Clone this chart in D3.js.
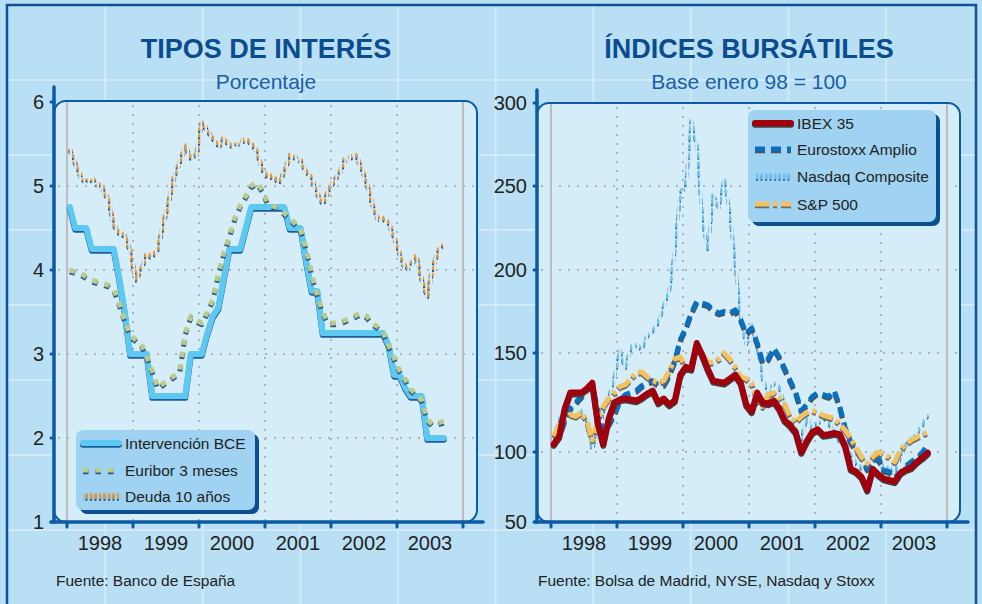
<!DOCTYPE html>
<html lang="es">
<head>
  <meta charset="UTF-8">
  <title>Tipos de interés e índices bursátiles</title>
  <style>
    body { margin: 0; background: #b9dff4; }
    svg { display: block; font-family: "Liberation Sans", Arial, sans-serif; }
  </style>
  <script src="https://d3js.org/d3.v7.min.js"></script>
</head>
<body>
  <div id="chart"></div>
  <script>
    // Datos mensuales, enero 1998 - septiembre 2003
    var years = ["1998", "1999", "2000", "2001", "2002", "2003"];
    var tiposTicks = [1, 2, 3, 4, 5, 6];
    var bolsaTicks = [50, 100, 150, 200, 250, 300];

    var bce = [4.75, 4.5, 4.5, 4.5, 4.25, 4.25, 4.25, 4.25, 4.25, 3.9, 3.5, 3.0,
      3.0, 3.0, 3.0, 2.5, 2.5, 2.5, 2.5, 2.5, 2.5, 2.5, 3.0, 3.0,
      3.0, 3.25, 3.45, 3.55, 3.9, 4.25, 4.25, 4.25, 4.5, 4.75, 4.75, 4.75,
      4.75, 4.75, 4.75, 4.75, 4.5, 4.5, 4.5, 4.1, 3.75, 3.75, 3.25, 3.25,
      3.25, 3.25, 3.25, 3.25, 3.25, 3.25, 3.25, 3.25, 3.25, 3.25, 3.1, 2.75,
      2.75, 2.6, 2.5, 2.5, 2.5, 2.0, 2.0, 2.0, 2.0];
    var euribor = [4.0, 3.98, 3.96, 3.92, 3.88, 3.86, 3.84, 3.82, 3.78, 3.6, 3.4, 3.22,
      3.17, 3.12, 2.97, 2.8, 2.6, 2.65, 2.7, 2.74, 2.8, 3.25, 3.45, 3.4,
      3.37, 3.5, 3.65, 3.95, 4.2, 4.4, 4.62, 4.77, 4.88, 5.0, 5.05, 4.95,
      4.8, 4.76, 4.74, 4.68, 4.62, 4.55, 4.48, 4.25, 3.95, 3.7, 3.5, 3.37,
      3.37, 3.38, 3.4, 3.43, 3.46, 3.49, 3.45, 3.37, 3.32, 3.26, 3.1, 2.95,
      2.8, 2.7, 2.58, 2.52, 2.45, 2.22, 2.16, 2.18, 2.2];
    var deuda = [5.45, 5.28, 5.12, 5.05, 5.1, 5.03, 4.98, 4.85, 4.55, 4.45, 4.42, 4.24,
      3.9, 4.02, 4.2, 4.16, 4.26, 4.56, 4.82, 5.12, 5.3, 5.48, 5.35, 5.38,
      5.76, 5.68, 5.58, 5.47, 5.58, 5.5, 5.48, 5.54, 5.56, 5.52, 5.42, 5.22,
      5.11, 5.13, 5.05, 5.18, 5.37, 5.35, 5.31, 5.18, 5.1, 4.92, 4.8, 4.95,
      5.07, 5.16, 5.32, 5.35, 5.37, 5.24, 5.05, 4.8, 4.62, 4.62, 4.57, 4.4,
      4.2, 4.02, 4.07, 4.18, 3.9, 3.7, 4.05, 4.24, 4.3];

    var ibex = [104, 108, 122, 130, 130, 130, 132, 135, 115, 104, 117, 125,
      126.5, 127, 126.5, 126, 127.5, 129.5, 131, 125, 127, 124, 126, 139,
      143, 142, 156, 149, 142, 136, 135.5, 135, 137, 139, 135, 124,
      120.5, 130, 125, 124.5, 126, 122, 116, 113.5, 110, 100, 105.5, 110,
      111.5, 108.6, 109, 109.6, 109, 103, 88, 86, 82, 73, 88, 84,
      81, 80, 79, 85, 87.5, 89, 93, 96, 99.5];
    var eurostoxx = [104, 108, 116, 122, 125, 128, 132, 134, 121, 110, 114, 119,
      126, 129, 130, 131, 133.5, 135, 136, 134, 134, 139, 146, 158,
      165, 174, 181, 180, 179, 176, 174, 175, 174, 176, 170, 162,
      165, 156, 145, 147, 153, 148, 142, 136, 130, 121, 124, 128,
      130, 129, 128, 131, 123, 112, 105, 101, 96, 88, 92, 96,
      87, 86, 82, 85, 90, 93, 96, 99.5, 104];
    var nasdaq = [107, 117, 119, 120, 118, 121, 115, 102, 112, 120, 128, 138,
      152, 143, 154, 155, 153, 161, 164, 169, 179, 188, 212, 247,
      250, 290, 275, 232, 212, 245, 238, 255, 235, 205, 172, 156,
      167, 156, 137, 130, 135, 133, 124, 117, 112, 107, 118, 112,
      115, 118, 115, 111, 106, 103, 98, 92, 89, 89, 95, 94,
      89, 89, 87, 97, 104, 107, 110, 114, 119];
    var sp500 = [108, 114, 117, 119, 118, 120, 116, 106, 116, 123, 127, 130,
      133, 134, 137, 140, 140.5, 138, 136, 135, 136, 141, 147, 148,
      143, 145, 153, 150, 145, 145.5, 147, 150, 147, 143, 138, 137,
      135, 126, 123, 129, 130, 127.5, 124, 118, 115, 118, 120, 121,
      120, 118.5, 117.7, 117, 114, 111, 107, 102, 96, 92, 96.5, 100,
      98, 96.5, 93, 101, 104, 106, 107.5, 109, 110];

    var W = 982, H = 604;
    var svg = d3.select("#chart").append("svg")
      .attr("width", W)
      .attr("height", H);

    // Tramas verticales (como las líneas punteadas del original)
    var defs = svg.append("defs");
    function hatch(id, color) {
      var p = defs.append("pattern")
        .attr("id", id)
        .attr("patternUnits", "userSpaceOnUse")
        .attr("width", 4.5)
        .attr("height", 10);
      p.append("rect").attr("width", 2).attr("height", 10).attr("fill", color);
    }
    hatch("hDeuda", "#f5962a");
    hatch("hDeudaS", "#1d4f8a");
    hatch("hNasdaq", "#6ec8f0");
    hatch("hNasdaqS", "#2a66a6");

    // Fondo y cuadrícula decorativa
    svg.append("rect").attr("width", W).attr("height", H).attr("fill", "#b9dff4");
    var bg = svg.append("g").attr("stroke", "#d0eaf8").attr("stroke-width", 2);
    bg.selectAll(".v").data(d3.range(1, 10)).enter().append("line")
      .attr("x1", function(k) { return 7.6 + 97.6 * k; })
      .attr("x2", function(k) { return 7.6 + 97.6 * k; })
      .attr("y1", 5).attr("y2", H);
    bg.selectAll(".h").data(d3.range(1, 9)).enter().append("line")
      .attr("x1", 7).attr("x2", 976)
      .attr("y1", function(k) { return 5 + 75 * k; })
      .attr("y2", function(k) { return 5 + 75 * k; });

    svg.append("path")
      .attr("d", "M7,606V5H976V606")
      .attr("fill", "none")
      .attr("stroke", "#0d5296")
      .attr("stroke-width", 2.5);

    var panels = [
      {
        title: "TIPOS DE INTERÉS", subtitle: "Porcentaje", cx: 266,
        x0: 67, x1: 463, axisX: 54, axisTop: 87, xAxisL: 51, xAxisR: 483,
        right: 477, top: 101, bottom: 522, labelX: 44,
        y: d3.scaleLinear().domain([1, 6]).range([522, 102]),
        ticks: tiposTicks,
        source: "Fuente: Banco de España", sourceX: 56,
        series: [
          { name: "Intervención BCE", values: bce, color: "#5dc9f3", width: 6, shadow: "#1f5c9c", cap: "round" },
          { name: "Euribor 3 meses", values: euribor, color: "#bccb8b", width: 5, dash: "5.5,7", shadow: "#2b5b8e" },
          { name: "Deuda 10 años", values: deuda, color: "url(#hDeuda)", width: 4.5, dash: "4,2.5", hatched: true, shadow: "url(#hDeudaS)" }
        ],
        order: [0, 1, 2],
        legend: { x: 76, y: 430, w: 179, h: 80, lx: 83, lw: 36, tx: 125, rows: [443, 470, 496] }
      },
      {
        title: "ÍNDICES BURSÁTILES", subtitle: "Base enero 98 = 100", cx: 749,
        x0: 551, x1: 947, axisX: 537, axisTop: 90, xAxisL: 535, xAxisR: 968,
        right: 960, top: 103, bottom: 522, labelX: 527,
        y: d3.scaleLinear().domain(bolsaTicks).range([522, 452, 353, 270, 186, 103]),
        ticks: bolsaTicks,
        source: "Fuente: Bolsa de Madrid, NYSE, Nasdaq y Stoxx", sourceX: 538,
        series: [
          { name: "IBEX 35", values: ibex, color: "#a0000e", width: 6, shadow: "#4d3a3a", cap: "round" },
          { name: "Eurostoxx Amplio", values: eurostoxx, color: "#0b6fc0", width: 5, dash: "10,6", shadow: "#4a5360" },
          { name: "Nasdaq Composite", values: nasdaq, color: "url(#hNasdaq)", width: 3.5, dash: "6,3", hatched: true, shadow: "url(#hNasdaqS)" },
          { name: "S&P 500", values: sp500, color: "#f3c15e", width: 5, dash: "14,4,4,4", shadow: "#6a6a6a" }
        ],
        order: [2, 1, 3, 0],
        legend: { x: 748, y: 110, w: 188, h: 112, lx: 755, lw: 36, tx: 797, rows: [123, 149, 176, 204] }
      }
    ];

    panels.forEach(drawPanel);

    function drawPanel(p) {
      var g = svg.append("g");
      var x = d3.scaleLinear().domain([0, years.length * 12]).range([p.x0, p.x1]);
      var y = p.y;

      // Títulos
      g.append("text")
        .attr("x", p.cx).attr("y", 58)
        .attr("text-anchor", "middle")
        .attr("font-size", 27).attr("font-weight", "bold")
        .attr("fill", "#0a4c8e")
        .text(p.title);
      g.append("text")
        .attr("x", p.cx).attr("y", 89)
        .attr("text-anchor", "middle")
        .attr("font-size", 21)
        .attr("fill", "#1a5ea6")
        .text(p.subtitle);

      // Área del gráfico
      g.append("rect")
        .attr("x", p.axisX).attr("y", p.top)
        .attr("width", p.right - p.axisX).attr("height", p.bottom - p.top)
        .attr("rx", 12)
        .attr("fill", "#d5edf9")
        .attr("stroke", "#0b5aa6").attr("stroke-width", 2);

      // Rejilla punteada
      var grid = g.append("g")
        .attr("stroke", "#aeb4b8").attr("stroke-width", 2)
        .attr("stroke-dasharray", "2,7");
      grid.selectAll(".gy").data(p.ticks.slice(1, -1)).enter().append("line")
        .attr("x1", p.axisX + 4).attr("x2", p.right - 2)
        .attr("y1", y).attr("y2", y);
      grid.selectAll(".gx").data(d3.range(1, years.length)).enter().append("line")
        .attr("x1", function(d) { return x(d * 12); })
        .attr("x2", function(d) { return x(d * 12); })
        .attr("y1", p.top + 4).attr("y2", p.bottom - 2);

      g.selectAll(".edge").data([0, years.length * 12]).enter().append("line")
        .attr("x1", x).attr("x2", x)
        .attr("y1", p.top + 1).attr("y2", p.bottom)
        .attr("stroke", "#bcbcbc").attr("stroke-width", 2);

      // Series
      var line = d3.line()
        .x(function(d, i) { return x(i + 0.5); })
        .y(function(d) { return y(d); });

      p.order.forEach(function(k) {
        var s = p.series[k];
        drawStroke(g, line(s.values), s, true, false);
        drawStroke(g, line(s.values), s, false, false);
      });

      // Leyenda
      var L = p.legend;
      var lg = g.append("g");
      lg.append("rect")
        .attr("x", L.x + 4).attr("y", L.y + 4)
        .attr("width", L.w).attr("height", L.h).attr("rx", 7)
        .attr("fill", "#0c4f91");
      lg.append("rect")
        .attr("x", L.x).attr("y", L.y)
        .attr("width", L.w).attr("height", L.h).attr("rx", 7)
        .attr("fill", "#9fd3f1");
      p.series.forEach(function(s, i) {
        var ry = L.rows[i];
        var d = "M" + L.lx + "," + ry + "H" + (L.lx + L.lw);
        drawStroke(lg, d, s, true, true);
        drawStroke(lg, d, s, false, true);
        lg.append("text")
          .attr("x", L.tx).attr("y", ry)
          .attr("dy", "0.36em")
          .attr("font-size", 15.5)
          .attr("fill", "#222")
          .text(s.name);
      });

      // Ejes
      var ax = g.append("g")
        .attr("stroke", "#0b5aa6")
        .attr("stroke-linecap", "round");
      ax.append("line")
        .attr("x1", p.axisX).attr("x2", p.axisX)
        .attr("y1", p.axisTop).attr("y2", p.bottom)
        .attr("stroke-width", 3.5);
      ax.append("line")
        .attr("x1", p.xAxisL).attr("x2", p.xAxisR)
        .attr("y1", p.bottom).attr("y2", p.bottom)
        .attr("stroke-width", 3.5);
      ax.selectAll(".ty").data(p.ticks).enter().append("line")
        .attr("x1", p.axisX - 3).attr("x2", p.axisX)
        .attr("y1", y).attr("y2", y)
        .attr("stroke-width", 3);
      ax.selectAll(".tx").data(d3.range(0, years.length + 1)).enter().append("line")
        .attr("x1", function(d) { return x(d * 12); })
        .attr("x2", function(d) { return x(d * 12); })
        .attr("y1", p.bottom).attr("y2", p.bottom + 5)
        .attr("stroke-width", 3);

      g.selectAll(".ly").data(p.ticks).enter().append("text")
        .attr("x", p.labelX).attr("y", y)
        .attr("dy", "0.36em")
        .attr("text-anchor", "end")
        .attr("font-size", 20)
        .attr("fill", "#222")
        .text(function(d) { return d; });
      g.selectAll(".lx").data(years).enter().append("text")
        .attr("x", function(d, i) { return x(i * 12 + 6); })
        .attr("y", 550)
        .attr("text-anchor", "middle")
        .attr("font-size", 20)
        .attr("fill", "#222")
        .text(function(d) { return d; });

      g.append("text")
        .attr("x", p.sourceX).attr("y", 586)
        .attr("font-size", 15.5)
        .attr("fill", "#222")
        .text(p.source);
    }

    // En la leyenda las tramas se dibujan sin cortes
    function drawStroke(sel, d, s, isShadow, inLegend) {
      var dash = (inLegend && s.hatched) ? null : (s.dash || null);
      sel.append("path")
        .attr("d", d)
        .attr("transform", isShadow ? "translate(0,1.8)" : null)
        .attr("fill", "none")
        .attr("stroke", isShadow ? s.shadow : s.color)
        .attr("stroke-width", inLegend && s.hatched ? 6 : s.width)
        .attr("stroke-dasharray", dash)
        .attr("stroke-linejoin", "round")
        .attr("stroke-linecap", s.cap || "butt");
    }
  </script>
</body>
</html>
